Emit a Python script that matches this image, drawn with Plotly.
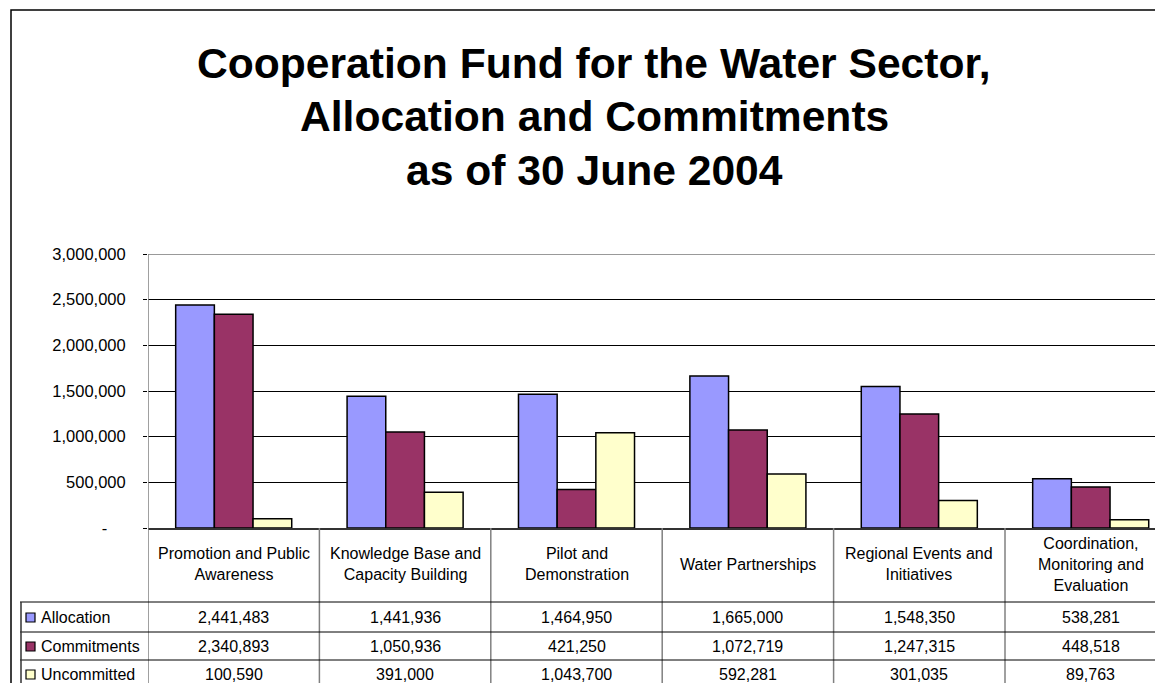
import plotly.graph_objects as go

# ---------------- data ----------------
categories = ["Promotion and Public Awareness", "Knowledge Base and Capacity Building",
              "Pilot and Demonstration", "Water Partnerships",
              "Regional Events and Initiatives", "Coordination, Monitoring and Evaluation"]
header_labels = ["Promotion and Public<br>Awareness", "Knowledge Base and<br>Capacity Building",
                 "Pilot and<br>Demonstration", "Water Partnerships",
                 "Regional Events and<br>Initiatives", "Coordination,<br>Monitoring and<br>Evaluation"]
allocation = [2441483, 1441936, 1464950, 1665000, 1548350, 538281]
commitments = [2340893, 1050936, 421250, 1072719, 1247315, 448518]
uncommitted = [100590, 391000, 1043700, 592281, 301035, 89763]
series_names = ["Allocation", "Commitments", "Uncommitted"]
series_values = [allocation, commitments, uncommitted]
series_colors = ["#9999FF", "#993366", "#FFFFCC"]
y_ticks = [0, 500000, 1000000, 1500000, 2000000, 2500000, 3000000]
title_lines = ["Cooperation Fund for the Water Sector,", "Allocation and Commitments", "as of 30 June 2004"]

# ---------------- layout constants ----------------
OFF = 8                      # page body margin in the browser
W, H = 1163 - OFF, 683 - OFF
L = 148 - OFF                # plot left (figure px)
T = 254 - OFF                # plot top (figure px)
B = H - (528 - OFF)          # bottom margin
PW = W - L
PH = H - T - B
CAT_W = 171.4
FONT = "Arial, Liberation Sans, sans-serif"


def py(p):  # page pixel y -> paper y
    return (H - B - (p - OFF)) / PH


def px(p):  # page pixel x -> paper x
    return (p - OFF - L) / PW


fig = go.Figure()
for name, vals, col in zip(series_names, series_values, series_colors):
    fig.add_trace(go.Bar(x=categories, y=vals, name=name,
                         marker=dict(color=col, line=dict(color="#000000", width=1.5))))

ticktext = [f"{v:,}" if v else "-\u00a0\u00a0\u00a0\u00a0" for v in y_ticks]

shapes = []
annotations = []

# outer chart border
shapes.append(dict(type="rect", xref="paper", yref="paper", x0=px(11), x1=px(1180),
                   y0=py(700), y1=py(10), line=dict(color="#000000", width=1.5)))
# top of plot area (gray)
shapes.append(dict(type="line", xref="paper", yref="y", x0=0, x1=1.01, y0=y_ticks[-1], y1=y_ticks[-1],
                   line=dict(color="#999999", width=2)))
# left axis line extending through table
shapes.append(dict(type="line", xref="x", yref="paper", x0=-0.5, x1=-0.5, y0=1, y1=py(700),
                   line=dict(color="#808080", width=1.5)))
# vertical table dividers
for i in range(len(categories) - 1):
    shapes.append(dict(type="line", xref="x", yref="paper", x0=i + 0.5, x1=i + 0.5, y0=0, y1=py(700),
                       line=dict(color="#808080", width=1.5)))
# horizontal table rules
row_tops = [602, 632, 660]
row_centers = [617, 646, 674]
for r in row_tops:
    shapes.append(dict(type="line", xref="paper", yref="paper", x0=px(20), x1=1.01, y0=py(r), y1=py(r),
                       line=dict(color="#000000", width=1)))
shapes.append(dict(type="line", xref="paper", yref="paper", x0=px(21), x1=px(21), y0=py(602), y1=py(700),
                   line=dict(color="#333333", width=1.5)))

# title
for line, yc in zip(title_lines, [63, 116, 170]):
    annotations.append(dict(text=f"<b>{line}</b>", xref="paper", yref="paper", x=px(594), y=py(yc),
                            xanchor="center", yanchor="middle", showarrow=False,
                            font=dict(family=FONT, size=42.6, color="#000000")))

# header labels
for i, lab in enumerate(header_labels):
    annotations.append(dict(text=lab, xref="x", yref="paper", x=i, y=py(564),
                            xanchor="center", yanchor="middle", showarrow=False,
                            font=dict(family=FONT, size=16, color="#000000")))

# data rows
for name, vals, col, yc in zip(series_names, series_values, series_colors, row_centers):
    shapes.append(dict(type="rect", xref="paper", yref="paper", x0=px(26), x1=px(35),
                       y0=py(yc + 5), y1=py(yc - 4), fillcolor=col,
                       line=dict(color="#000000", width=1.2)))
    annotations.append(dict(text=name, xref="paper", yref="paper", x=px(39), y=py(yc),
                            xanchor="left", yanchor="middle", showarrow=False,
                            font=dict(family=FONT, size=16, color="#000000")))
    for i, v in enumerate(vals):
        annotations.append(dict(text=f"{v:,}", xref="x", yref="paper", x=i, y=py(yc),
                                xanchor="center", yanchor="middle", showarrow=False,
                                font=dict(family=FONT, size=16, color="#000000")))

fig.update_layout(
    template="none",
    width=W, height=H,
    margin=dict(l=L, r=0, t=T, b=B, pad=0),
    paper_bgcolor="#FFFFFF", plot_bgcolor="#FFFFFF",
    showlegend=False,
    barmode="group", bargap=0.323, bargroupgap=0,
    xaxis=dict(range=[-0.5, -0.5 + PW / CAT_W], showticklabels=False, ticks="",
               showgrid=False, zeroline=False, showline=True, linecolor="#333333", linewidth=1.5,
               automargin=False, fixedrange=True),
    yaxis=dict(range=[0, 3000000], tickvals=y_ticks, ticktext=ticktext,
               ticks="outside", ticklen=4, tickcolor="#000000", tickwidth=1,
               ticklabelstandoff=14,
               showgrid=True, gridcolor="#000000", gridwidth=1, zeroline=False,
               showline=False, automargin=False,
               tickfont=dict(family=FONT, size=16.5, color="#000000"), fixedrange=True),
    shapes=shapes, annotations=annotations,
)

fig.write_html("out.html")
